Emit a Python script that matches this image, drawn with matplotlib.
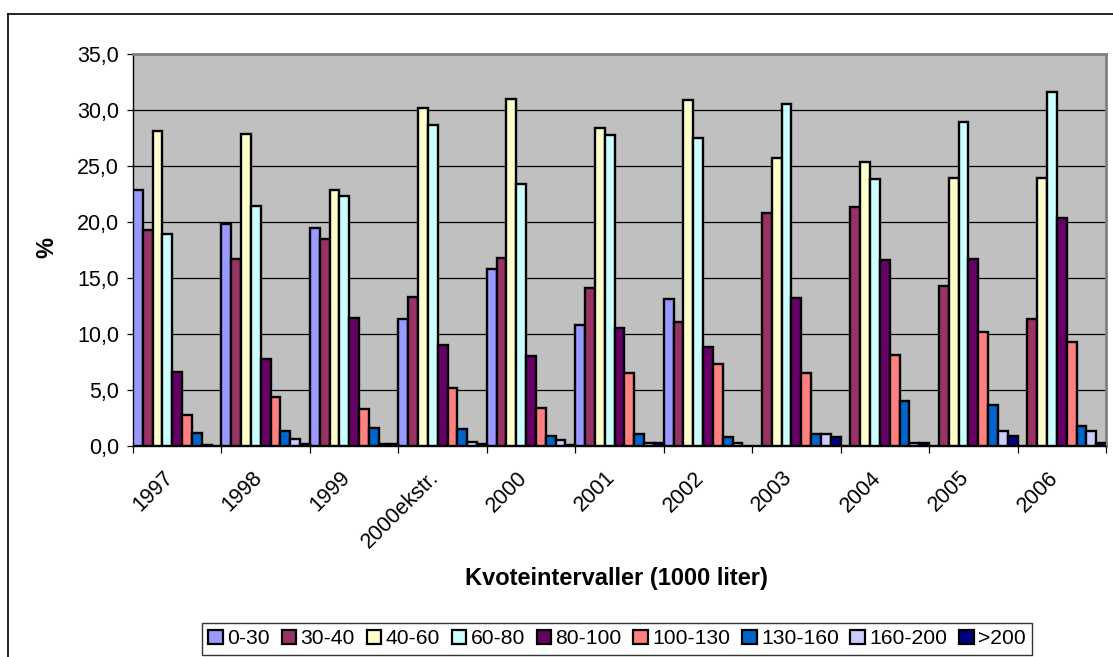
import numpy as np
import matplotlib
matplotlib.use("Agg")
import matplotlib.pyplot as plt
import matplotlib.transforms as mtransforms
from matplotlib.patches import Patch
from matplotlib.lines import Line2D
from matplotlib.ticker import FuncFormatter

# ********** Data *************************************************************

years = ["1997", "1998", "1999", "2000ekstr.", "2000", "2001", "2002",
         "2003", "2004", "2005", "2006"]

intervals = ["0-30", "30-40", "40-60", "60-80", "80-100", "100-130",
             "130-160", "160-200", ">200"]

v_0_30    = [22.9, 19.8, 19.5, 11.3, 15.8, 10.8, 13.1, 0.0, 0.0, 0.0, 0.0]
v_30_40   = [19.3, 16.7, 18.5, 13.3, 16.8, 14.1, 11.1, 20.8, 21.3, 14.3, 11.3]
v_40_60   = [28.1, 27.9, 22.9, 30.2, 31.0, 28.4, 30.9, 25.7, 25.4, 23.9, 23.9]
v_60_80   = [18.9, 21.4, 22.3, 28.7, 23.4, 27.8, 27.5, 30.5, 23.8, 28.9, 31.6]
v_80_100  = [6.6, 7.8, 11.4, 9.0, 8.0, 10.5, 8.8, 13.2, 16.6, 16.7, 20.4]
v_100_130 = [2.8, 4.4, 3.3, 5.2, 3.4, 6.5, 7.3, 6.5, 8.1, 10.2, 9.3]
v_130_160 = [1.2, 1.3, 1.65, 1.55, 0.9, 1.1, 0.8, 1.1, 4.0, 3.7, 1.8]
v_160_200 = [0.1, 0.65, 0.2, 0.4, 0.5, 0.3, 0.3, 1.1, 0.3, 1.35, 1.35]
v_over200 = [0.0, 0.15, 0.2, 0.15, 0.1, 0.3, 0.0, 0.8, 0.3, 0.85, 0.3]

series = [v_0_30, v_30_40, v_40_60, v_60_80, v_80_100, v_100_130,
          v_130_160, v_160_200, v_over200]

colors = ["#9999FF", "#993366", "#FFFFCC", "#CCFFFF", "#660066",
          "#FF8080", "#0066CC", "#CCCCFF", "#000080"]

# ********** Plot *************************************************************

plt.rcParams["font.family"] = ["Liberation Sans", "DejaVu Sans"]

W, H = 1113, 657
fig = plt.figure(figsize=(W / 100, H / 100), dpi=100)

# plot area in pixel coords (left, top, right, bottom)
pl, pt, pr, pb = 133, 54, 1106, 446
ax = fig.add_axes([pl / W, 1 - pb / H, (pr - pl) / W, (pb - pt) / H])
ax.set_facecolor("#C0C0C0")

n = len(intervals)
x = np.arange(len(years))
w = 1.0 / n
for j in range(n):
    ax.bar(x + j * w, series[j], width=w, align="edge", color=colors[j],
           edgecolor="black", linewidth=1.7, zorder=3, label=intervals[j])

ax.set_xlim(0, len(years))
ax.set_ylim(0, 35)
ax.set_yticks(np.arange(0, 36, 5))
ax.yaxis.set_major_formatter(FuncFormatter(lambda v, p: "{:.1f}".format(v).replace(".", ",")))
ax.grid(axis="y", color="black", linewidth=0.9, zorder=1)
ax.set_axisbelow(True)

# category labels centered, tick marks on boundaries
ax.set_xticks(x + 0.5)
ax.set_xticklabels(years, rotation=45, ha="right", va="center",
                   rotation_mode="anchor")
ax.set_xticks(np.arange(len(years) + 1), minor=True)
ax.tick_params(axis="x", which="major", length=0, pad=22, labelsize=15.5)
ax.tick_params(axis="x", which="minor", length=5, width=0.9, direction="out")
ax.tick_params(axis="y", length=4, width=0.9, direction="out", pad=6, labelsize=15.5)

shift = mtransforms.ScaledTranslation(-0.07, 0.02, fig.dpi_scale_trans)
for lab in ax.get_xticklabels():
    lab.set_transform(lab.get_transform() + shift)

for s in ["left", "bottom"]:
    ax.spines[s].set_color("black")
    ax.spines[s].set_linewidth(1.0)
for s in ["top", "right"]:
    ax.spines[s].set_color("#808080")
    ax.spines[s].set_linewidth(2.0)

fig.text(616 / W, 1 - 578 / H, "Kvoteintervaller (1000 liter)", ha="center",
         va="center", fontsize=17, fontweight="bold")
fig.text(47 / W, 1 - 248 / H, "%", ha="center", va="center", rotation=90,
         fontsize=17, fontweight="bold")

# chart border (runs off the right and bottom edges)
fig.add_artist(Line2D([8 / W, 8 / W], [1 - 14 / H, -0.1], color="black",
                      linewidth=1.2, transform=fig.transFigure))
fig.add_artist(Line2D([8 / W, 1.1], [1 - 14 / H, 1 - 14 / H], color="black",
                      linewidth=1.2, transform=fig.transFigure))

handles = [Patch(facecolor=colors[j], edgecolor="black", linewidth=1.6,
                 label=intervals[j]) for j in range(n)]
leg = fig.legend(handles=handles, loc="upper left",
                 bbox_to_anchor=(202 / W, 1 - 623 / H), ncol=n, frameon=True,
                 fancybox=False, fontsize=15.2, handlelength=0.7,
                 handleheight=0.7, handletextpad=0.2, columnspacing=0.55,
                 borderpad=0.3, borderaxespad=0)
leg.get_frame().set_edgecolor("black")
leg.get_frame().set_linewidth(1.0)

fig.savefig("out.png", dpi=100)
